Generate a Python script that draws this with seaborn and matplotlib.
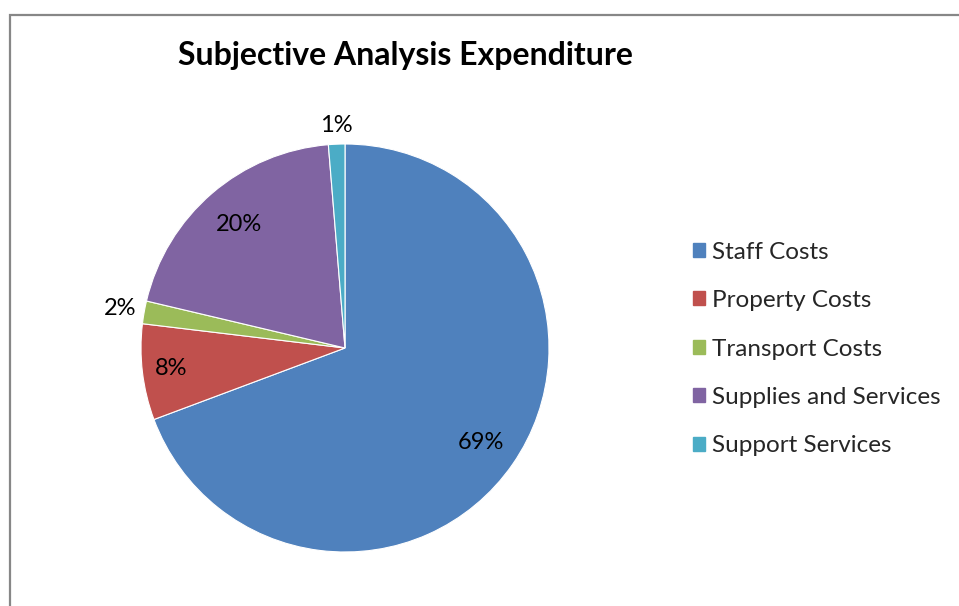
import matplotlib
matplotlib.use("Agg")
import matplotlib.pyplot as plt
from matplotlib.patches import Rectangle, Patch
import seaborn as sns
import numpy as np

categories = ["Staff Costs", "Property Costs", "Transport Costs", "Supplies and Services", "Support Services"]
values = [69.3, 7.6, 1.8, 20.0, 1.3]
colors = ["#4F81BD", "#C0504D", "#9BBB59", "#8064A2", "#4BACC6"]
label_dist = [0.81, 0.86, 1.12, 0.80, 1.09]
title = "Subjective Analysis Expenditure"

sns.set_theme(style="white")
plt.rcParams["font.family"] = ["Lato", "DejaVu Sans"]

W, H = 959, 606
fig = plt.figure(figsize=(W / 100, H / 100), dpi=100)
fig.patch.set_facecolor("white")

# chart border
fig.add_artist(Rectangle((10 / W, -0.1), 1.2, 1.1 - 15 / H, transform=fig.transFigure,
                         fill=False, edgecolor="#878787", linewidth=1.6))

cx, cy, r = 345, 348, 204
ax = fig.add_axes([(cx - r) / W, (H - cy - r) / H, 2 * r / W, 2 * r / H])
wedges, _ = ax.pie(values, colors=colors, startangle=90, counterclock=False, radius=1,
                   wedgeprops=dict(edgecolor="white", linewidth=0.8))
ax.set_xlim(-1, 1)
ax.set_ylim(-1, 1)
ax.set_aspect("equal")
ax.axis("off")

total = sum(values)
for w, v, d in zip(wedges, values, label_dist):
    th = np.deg2rad((w.theta1 + w.theta2) / 2)
    ax.text(d * np.cos(th), d * np.sin(th), f"{v / total * 100:.0f}%",
            ha="center", va="center", fontsize=17, color="black")

fig.text(405 / W, 1 - 56 / H, title, ha="center", va="center",
         fontsize=23, fontweight="bold", color="black")

handles = [Patch(facecolor=c, edgecolor=c) for c in colors]
leg = fig.legend(handles, categories, loc="center left",
                 bbox_to_anchor=(693 / W, 1 - 349 / H), frameon=False,
                 fontsize=17.5, handlelength=0.5, handleheight=0.5,
                 handletextpad=0.3, labelspacing=1.13,
                 borderaxespad=0, borderpad=0)

fig.savefig("out.png", dpi=100)
